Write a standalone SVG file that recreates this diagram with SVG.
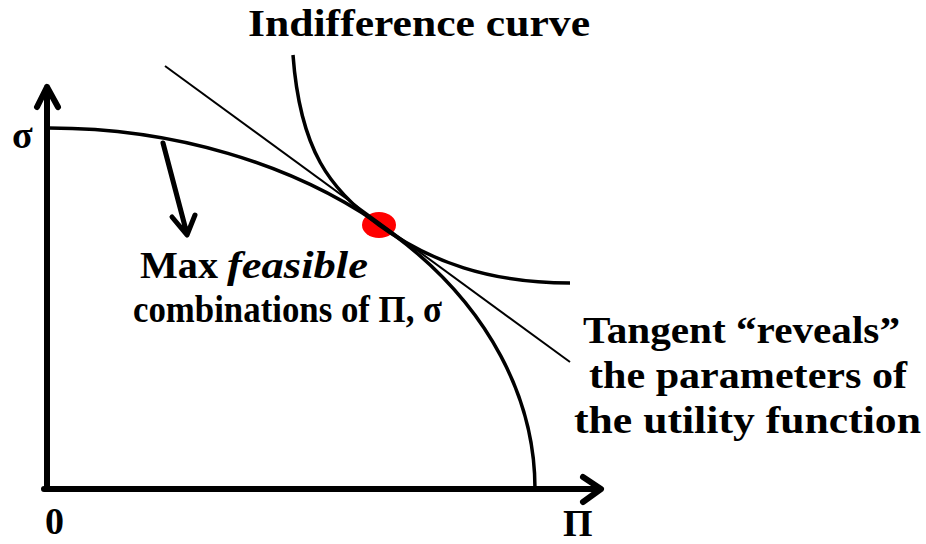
<svg xmlns="http://www.w3.org/2000/svg" width="926" height="544" viewBox="0 0 926 544">
<style>
text{font-family:"Liberation Serif","Times New Roman",serif;font-weight:bold;font-size:38px;fill:#000}
.it{font-style:italic}
.ax{fill:none;stroke:#000;stroke-width:6;stroke-linecap:round;stroke-linejoin:round}
.cv{fill:none;stroke:#000;stroke-width:3.5}
.tl{fill:none;stroke:#000;stroke-width:2}
.ar{fill:none;stroke:#000;stroke-width:5;stroke-linecap:round;stroke-linejoin:round}
</style>
<rect width="926" height="544" fill="#fff"/>
<g id="tangent-point"><ellipse cx="379" cy="225" rx="17" ry="13" fill="#ff0000"/></g>
<g id="connectors">
<g id="axes">
<path class="ax" d="M47,489 V87 M37,107 L47,87 L58,107"/>
<path class="ax" d="M44,489 H600 M583,477 L601,489 L583,502"/>
</g>
<path id="frontier" class="cv" d="M49,128 A486,361 0 0 1 535,489"/>
<path id="indifference" class="cv" d="M293,55 C300,150 330,190 379,225 C430,262 490,283 570,283"/>
<line id="tangent" class="tl" x1="165" y1="66" x2="570" y2="362"/>
<path id="pointer" class="ar" d="M163,143 L187,234 M172,217 L187,235 L195,215"/>
</g>
<g id="label-indifference"><text x="248" y="36" textLength="342" lengthAdjust="spacingAndGlyphs">Indifference curve</text></g>
<g id="label-feasible">
<text x="140" y="278" textLength="78" lengthAdjust="spacingAndGlyphs">Max</text>
<text class="it" x="227" y="278" textLength="141" lengthAdjust="spacingAndGlyphs">feasible</text>
<text x="133" y="322" font-size="36" textLength="309" lengthAdjust="spacingAndGlyphs">combinations of Π, σ</text>
</g>
<g id="label-tangent">
<text x="583" y="343" textLength="317" lengthAdjust="spacingAndGlyphs">Tangent “reveals”</text>
<text x="589" y="388" textLength="318" lengthAdjust="spacingAndGlyphs">the parameters of</text>
<text x="574" y="433" textLength="347" lengthAdjust="spacingAndGlyphs">the utility function</text>
</g>
<g id="label-sigma"><text x="12" y="148">σ</text></g>
<g id="label-zero"><text x="45" y="534">0</text></g>
<g id="label-pi"><text x="563" y="536">Π</text></g>
</svg>
